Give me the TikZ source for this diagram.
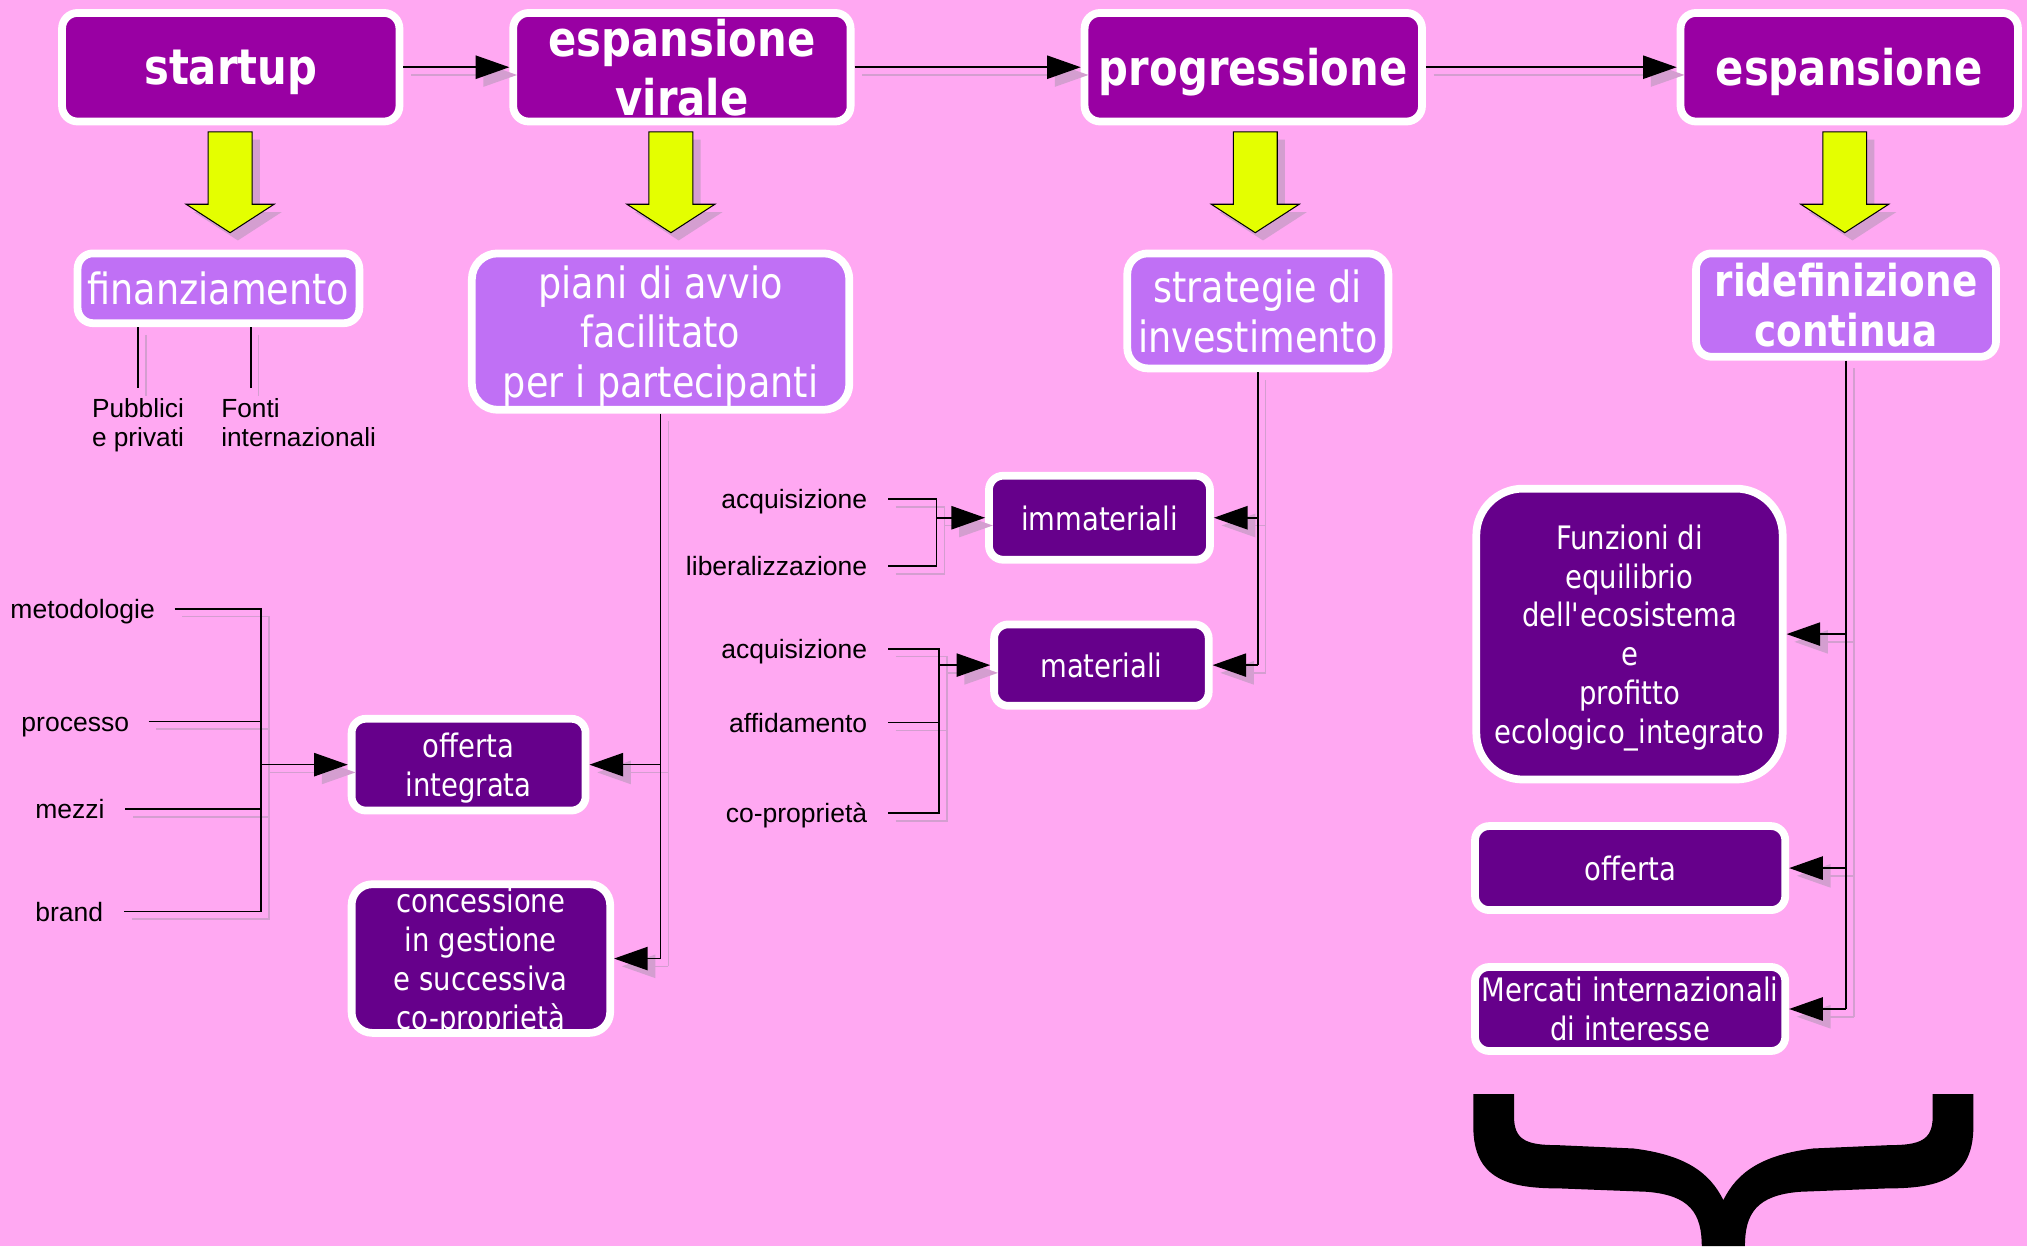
\documentclass[tikz,border=0pt]{standalone}
\usepackage{fontspec}
\setmainfont{DejaVu Sans}[FakeStretch=0.85]
\newfontfamily\labfont{Liberation Sans}
\usetikzlibrary{arrows.meta}
\definecolor{bgc}{RGB}{255,168,242}
\definecolor{topc}{RGB}{153,0,163}
\definecolor{midc}{RGB}{192,112,245}
\definecolor{darkc}{RGB}{102,0,139}
\definecolor{yel}{RGB}{228,255,0}
\definecolor{shad}{RGB}{212,158,208}
\def\conncol{black}
\newcommand\allconnectors{%
  % top row
  \draw[conn,arr] (startup.east) -- (espv.west);
  \draw[conn,arr] (espv.east) -- (prog.west);
  \draw[conn,arr] (prog.east) -- (esp.west);
  % finanziamento
  \draw[conn] (lpub.north |- finanz.south) -- ([yshift=8pt]lpub.north);
  \draw[conn] (fon |- finanz.south) -- ([yshift=8pt]fon);
  % piani
  \draw[conn] (piani.south) -- (piani.south |- conc.east);
  \draw[conn,arr] (piani.south |- offint.east) -- (offint.east);
  \draw[conn,arr] (piani.south |- conc.east) -- (conc.east);
  % left bus
  \draw[conn] ([xshift=15pt]lmet.east) -| (busL);
  \draw[conn] ([xshift=15pt]lpro.east) -| (busL);
  \draw[conn] ([xshift=16pt]lmez.east) -| (busL);
  \draw[conn] ([xshift=16pt]lbra.east) -| (busL);
  \draw[conn,arr] (busL) -- (busL -| offint.west);
  % immateriali
  \draw[conn] ([xshift=16pt]lacqa.east) -| (busI);
  \draw[conn] ([xshift=16pt]llib.east) -| (busI);
  \draw[conn,arr] (busI) -- (busI -| immat.west);
  % materiali
  \draw[conn] ([xshift=16pt]lacqb.east) -| (busM);
  \draw[conn] ([xshift=16pt]laff.east) -| (busM);
  \draw[conn] ([xshift=16pt]lcop.east) -| (busM);
  \draw[conn,arr] (busM) -- (busM -| mat.west);
  % strategie
  \draw[conn] (strat.south) -- (strat.south |- mat.east);
  \draw[conn,arr] (strat.south |- immat.east) -- (immat.east);
  \draw[conn,arr] (strat.south |- mat.east) -- (mat.east);
  % ridefinizione
  \draw[conn] (ridef.south) -- (ridef.south |- merc.east);
  \draw[conn,arr] (ridef.south |- funz.east) -- (funz.east);
  \draw[conn,arr] (ridef.south |- offer.east) -- (offer.east);
  \draw[conn,arr] (ridef.south |- merc.east) -- (merc.east);
}
\begin{document}
\begin{tikzpicture}[x=1pt,y=-1pt,
  box/.style={draw=white, line width=6pt, rounded corners=12pt, align=center,
    text=white, inner sep=0pt, text depth=0pt},
  topbox/.style={box, fill=topc, font=\fontsize{38}{46}\selectfont\bfseries,
    minimum width=261pt, minimum height=84pt},
  midbox/.style={box, fill=midc, font=\fontsize{33.3}{38.5}\selectfont},
  darkbox/.style={box, fill=darkc, font=\fontsize{25}{30}\selectfont, rounded corners=11pt},
  lab/.style={font=\labfont\fontsize{20.5}{21}\selectfont, inner sep=0pt,
    text height=17.5pt, text depth=2.5pt, anchor=east},
  labm/.style={font=\labfont\fontsize{20.3}{22.5}\selectfont, inner sep=0pt,
    align=left, anchor=north west},
  conn/.style={draw=\conncol, line width=1.2pt},
  arr/.style={-{Triangle[length=26pt,width=18pt]}}]
\fill[bgc] (0,0) rectangle (1568,964);
\useasboundingbox (0,0) rectangle (1568,964);

% top row
\node[topbox] (startup) at (178.5,52) {startup};
\node[topbox] (espv) at (527.5,52) {espansione\\virale};
\node[topbox] (prog) at (969.5,52) {progressione};
\node[topbox] (esp) at (1430.5,52) {espansione};

% yellow arrows
\foreach \ax in {178,519,971,1427} {
  \fill[shad, shift={(6,6)}] (\ax-17,102) -- (\ax+17,102) -- (\ax+17,158) -- (\ax+34,158)
     -- (\ax,180) -- (\ax-34,158) -- (\ax-17,158) -- cycle;
  \filldraw[fill=yel, draw=black, line width=0.8pt] (\ax-17,102) -- (\ax+17,102) -- (\ax+17,158)
     -- (\ax+34,158) -- (\ax,180) -- (\ax-34,158) -- (\ax-17,158) -- cycle;
}

% second level
\node[midbox, minimum width=218pt, minimum height=54pt] (finanz) at (169,223) {finanziamento};
\node[midbox, minimum width=292pt, minimum height=121pt, rounded corners=20pt] (piani) at (511,256.5)
  {piani di avvio\\facilitato\\per i partecipanti};
\node[midbox, minimum width=202pt, minimum height=89pt, rounded corners=16pt] (strat) at (973,240.5)
  {strategie di\\investimento};
\node[midbox, minimum width=232pt, minimum height=80pt, font=\fontsize{34}{39}\selectfont\bfseries] (ridef) at (1428,236)
  {ridefinizione\\continua};

% labels under finanziamento
\node[labm] (lpub) at (71,308) {Pubblici\\e privati};
\node[labm] (lfon) at (171,308) {Fonti\\internazionali};
\coordinate (fon) at ([xshift=23pt]lfon.north west);

% dark boxes
\node[darkbox, minimum width=181pt, minimum height=71pt] (offint) at (362.5,591.5) {offerta\\integrata};
\node[darkbox, minimum width=200pt, minimum height=115pt, rounded corners=16pt] (conc) at (372,741.5)
  {concessione\\in gestione\\e successiva\\co-propriet\`a};
\node[darkbox, minimum width=171pt, minimum height=65pt] (immat) at (850.5,400.5) {immateriali};
\node[darkbox, minimum width=166pt, minimum height=63pt] (mat) at (852,514.5) {materiali};
\node[darkbox, minimum width=237pt, minimum height=225pt, rounded corners=36pt] (funz) at (1260.5,490.5)
  {Funzioni di\\equilibrio\\dell\textquotesingle ecosistema\\e\\profitto\\ecologico\_integrato};
\node[darkbox, minimum width=240pt, minimum height=65pt] (offer) at (1261,671.5) {offerta};
\node[darkbox, minimum width=240pt, minimum height=65pt] (merc) at (1261,780.5)
  {Mercati internazionali\\di interesse};

% left labels
\node[lab] (lmet) at (120,471) {metodologie};
\node[lab] (lpro) at (100,558) {processo};
\node[lab] (lmez) at (81,626) {mezzi};
\node[lab] (lbra) at (80,705) {brand};
\coordinate (busL) at (202,591.5);

\node[lab] (lacqa) at (671,386) {acquisizione};
\node[lab] (llib) at (671,438) {liberalizzazione};
\coordinate (busI) at (724.5,400.5);

\node[lab] (lacqb) at (671,502) {acquisizione};
\node[lab] (laff) at (671,559) {affidamento};
\node[lab] (lcop) at (671,629) {co-propriet\`a};
\coordinate (busM) at (726.5,514.5);

% connector shadows
\begin{scope}[transform canvas={shift={(6,6)}}]
  \def\conncol{shad}
  \allconnectors
\end{scope}
% connectors
\allconnectors

% brace
\fill[black] (1139.7,846.3) -- (1139.7,871.6) .. controls (1139.7,912.9) and (1168.1,919.3) .. (1206.8,919.3)
  -- (1273.8,921.9) .. controls (1307.4,924.5) and (1316.4,938.7) .. (1316.4,964)
  -- (1349.8,964) .. controls (1349.8,938.7) and (1358.8,924.5) .. (1392.4,921.9)
  -- (1459.4,919.3) .. controls (1498.1,919.3) and (1526.5,912.9) .. (1526.5,871.6)
  -- (1526.5,846.3) -- (1495,846.3) -- (1495,863.9) .. controls (1495,881.9) and (1485.2,885.8) .. (1462,885.8)
  -- (1402.7,888.4) .. controls (1361.4,893.5) and (1343.4,907.7) .. (1333.1,928.3)
  .. controls (1322.8,907.7) and (1304.8,893.5) .. (1263.5,888.4)
  -- (1204.2,885.8) .. controls (1181,885.8) and (1171.2,881.9) .. (1171.2,863.9)
  -- (1171.2,846.3) -- cycle;
\end{tikzpicture}
\end{document}
